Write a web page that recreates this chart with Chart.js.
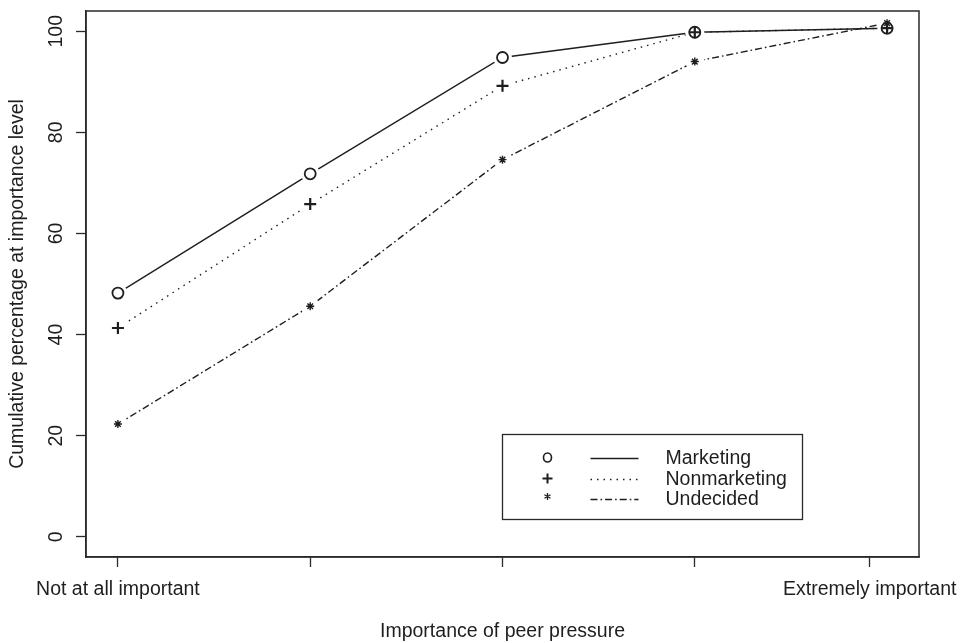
<!DOCTYPE html>
<html>
<head>
<meta charset="utf-8">
<style>
  html, body { margin: 0; padding: 0; background: #ffffff; }
  #wrap { width: 964px; height: 643px; }
</style>
<script src="https://cdn.jsdelivr.net/npm/chart.js@4.4.1/dist/chart.umd.min.js"></script>
</head>
<body>
<div id="wrap"><canvas id="c" width="964" height="643"></canvas></div>
<script>
// ---- data ----
const categories = ["Not at all important", "", "", "", "Extremely important"];
const xPositions = [1, 2, 3, 4, 5];
const xTickValues = [1, 2, 3, 4, 4.91];
const yTickValues = [0, 20, 40, 60, 80, 100];
const seriesNames = ["Marketing", "Nonmarketing", "Undecided"];
const marketing = [48.2, 71.8, 94.8, 99.8, 100.6];
const nonmarketing = [41.3, 65.8, 89.2, 99.8, 100.6];
const undecided = [22.3, 45.6, 74.6, 94.0, 101.6];

const INK = '#1e1e1e';
const FONT = '"Liberation Sans", Arial, Helvetica, sans-serif';

function toXY(vals) { return xPositions.map((x, i) => ({ x: x, y: vals[i] })); }

const styles = [
  { dash: [], pointStyle: 'circle', radius: 5.5, pw: 1.8 },
  { dash: [1.5, 5], pointStyle: 'cross', radius: 6, pw: 2.2 },
  { dash: [7, 3, 1.6, 3], pointStyle: 'star', radius: 4, pw: 1.4 }
];
const allSeries = [marketing, nonmarketing, undecided];

const datasets = allSeries.map((vals, i) => ({
  label: seriesNames[i],
  data: toXY(vals),
  borderColor: INK,
  backgroundColor: '#ffffff',
  borderWidth: 1.4,
  borderDash: styles[i].dash,
  pointStyle: styles[i].pointStyle,
  pointRadius: styles[i].radius,
  pointBorderWidth: styles[i].pw,
  pointBorderColor: INK,
  pointBackgroundColor: 'rgba(255,255,255,0)',
  pointHoverRadius: styles[i].radius,
  tension: 0,
  fill: false
}));

// Gaps around points (R type "b") + redraw markers on top
const gapPlugin = {
  id: 'gaps',
  afterDatasetsDraw(chart) {
    const ctx = chart.ctx;
    const a = chart.chartArea;
    ctx.save();
    ctx.beginPath();
    ctx.rect(a.left, a.top, a.right - a.left, a.bottom - a.top);
    ctx.clip();
    ctx.fillStyle = '#ffffff';
    chart.data.datasets.forEach((ds, di) => {
      const meta = chart.getDatasetMeta(di);
      meta.data.forEach(pt => {
        ctx.beginPath();
        ctx.arc(pt.x, pt.y, 9.5, 0, Math.PI * 2);
        ctx.fill();
      });
    });
    chart.data.datasets.forEach((ds, di) => {
      const meta = chart.getDatasetMeta(di);
      meta.data.forEach(pt => pt.draw(ctx, a));
    });
    ctx.restore();
  }
};

// Plot frame + legend box
const framePlugin = {
  id: 'frame',
  afterDraw(chart) {
    const ctx = chart.ctx;
    const a = chart.chartArea;
    ctx.save();
    ctx.strokeStyle = '#2a2a2a';
    ctx.lineWidth = 1.5;
    ctx.strokeRect(a.left, a.top, a.right - a.left, a.bottom - a.top);

    // legend anchored in data coordinates
    const xs = chart.scales.x, ys = chart.scales.y;
    const lx = Math.round(xs.getPixelForValue(3)) + 0.5;
    const ly = Math.round(ys.getPixelForValue(20.4)) + 0.5;
    const lw = 300, lh = 85;
    ctx.lineWidth = 1.3;
    ctx.strokeRect(lx, ly, lw, lh);
    ctx.font = '19.5px ' + FONT;
    ctx.fillStyle = INK;
    ctx.textBaseline = 'middle';
    ctx.textAlign = 'left';
    const rowY = [24, 45, 65];
    seriesNames.forEach((name, i) => {
      const y = ly + rowY[i];
      const sx = lx + 45;
      ctx.strokeStyle = INK;
      ctx.setLineDash([]);
      ctx.beginPath();
      if (i === 0) {
        ctx.lineWidth = 1.6;
        ctx.ellipse(sx, y - 1, 4, 4.5, 0, 0, Math.PI * 2);
        ctx.stroke();
      } else if (i === 1) {
        ctx.lineWidth = 2;
        ctx.moveTo(sx - 5, y - 1); ctx.lineTo(sx + 5, y - 1);
        ctx.moveTo(sx, y - 6); ctx.lineTo(sx, y + 4);
        ctx.stroke();
      } else {
        ctx.lineWidth = 1.3;
        for (let k = 0; k < 3; k++) {
          const ang = k * Math.PI / 3 + Math.PI / 2;
          ctx.moveTo(sx - 3.5 * Math.cos(ang), y - 3 - 3.5 * Math.sin(ang));
          ctx.lineTo(sx + 3.5 * Math.cos(ang), y - 3 + 3.5 * Math.sin(ang));
        }
        ctx.stroke();
      }
      ctx.lineWidth = 1.3;
      ctx.setLineDash(styles[i].dash);
      ctx.beginPath();
      ctx.moveTo(lx + 88, y);
      ctx.lineTo(lx + 136, y);
      ctx.stroke();
      ctx.setLineDash([]);
      ctx.fillText(name, lx + 163, y);
    });
    ctx.restore();
  }
};

new Chart(document.getElementById('c'), {
  type: 'line',
  data: { datasets: datasets },
  plugins: [gapPlugin, framePlugin],
  options: {
    responsive: false,
    animation: false,
    devicePixelRatio: 1,
    layout: { padding: { top: 11, right: 45, left: 0, bottom: 0 } },
    plugins: { legend: { display: false }, tooltip: { enabled: false } },
    scales: {
      x: {
        type: 'linear',
        min: 0.834,
        max: 5.166,
        afterBuildTicks: (s) => { s.ticks = xTickValues.map(v => ({ value: v })); },
        afterFit: (s) => { s.height = 86; s.paddingLeft = 0; s.paddingRight = 0; },
        ticks: {
          autoSkip: false,
          maxRotation: 0,
          minRotation: 0,
          padding: 11,
          color: INK,
          font: { family: FONT, size: 19.5 },
          callback: (v, idx) => categories[idx]
        },
        grid: { drawOnChartArea: false, drawTicks: true, tickLength: 10, color: '#2a2a2a', tickWidth: 1.3 },
        border: { display: true, color: '#2a2a2a', width: 1.5 },
        title: {
          display: true,
          text: 'Importance of peer pressure',
          color: INK,
          font: { family: FONT, size: 19.5 },
          padding: { top: 0, bottom: 0 }
        }
      },
      y: {
        type: 'linear',
        min: -4,
        max: 104,
        afterBuildTicks: (s) => { s.ticks = yTickValues.map(v => ({ value: v })); },
        afterFit: (s) => { s.width = 86; s.paddingTop = 0; s.paddingBottom = 0; },
        ticks: {
          minRotation: 90,
          maxRotation: 90,
          crossAlign: 'center',
          padding: 3,
          color: INK,
          font: { family: FONT, size: 19.5 },
          callback: (v) => String(v)
        },
        grid: { drawOnChartArea: false, drawTicks: true, tickLength: 10, color: '#2a2a2a', tickWidth: 1.3 },
        border: { display: true, color: '#2a2a2a', width: 1.5 },
        title: {
          display: true,
          text: 'Cumulative percentage at importance level',
          color: INK,
          font: { family: FONT, size: 19.5 },
          padding: { top: 6, bottom: 0 }
        }
      }
    }
  }
});
</script>
</body>
</html>
